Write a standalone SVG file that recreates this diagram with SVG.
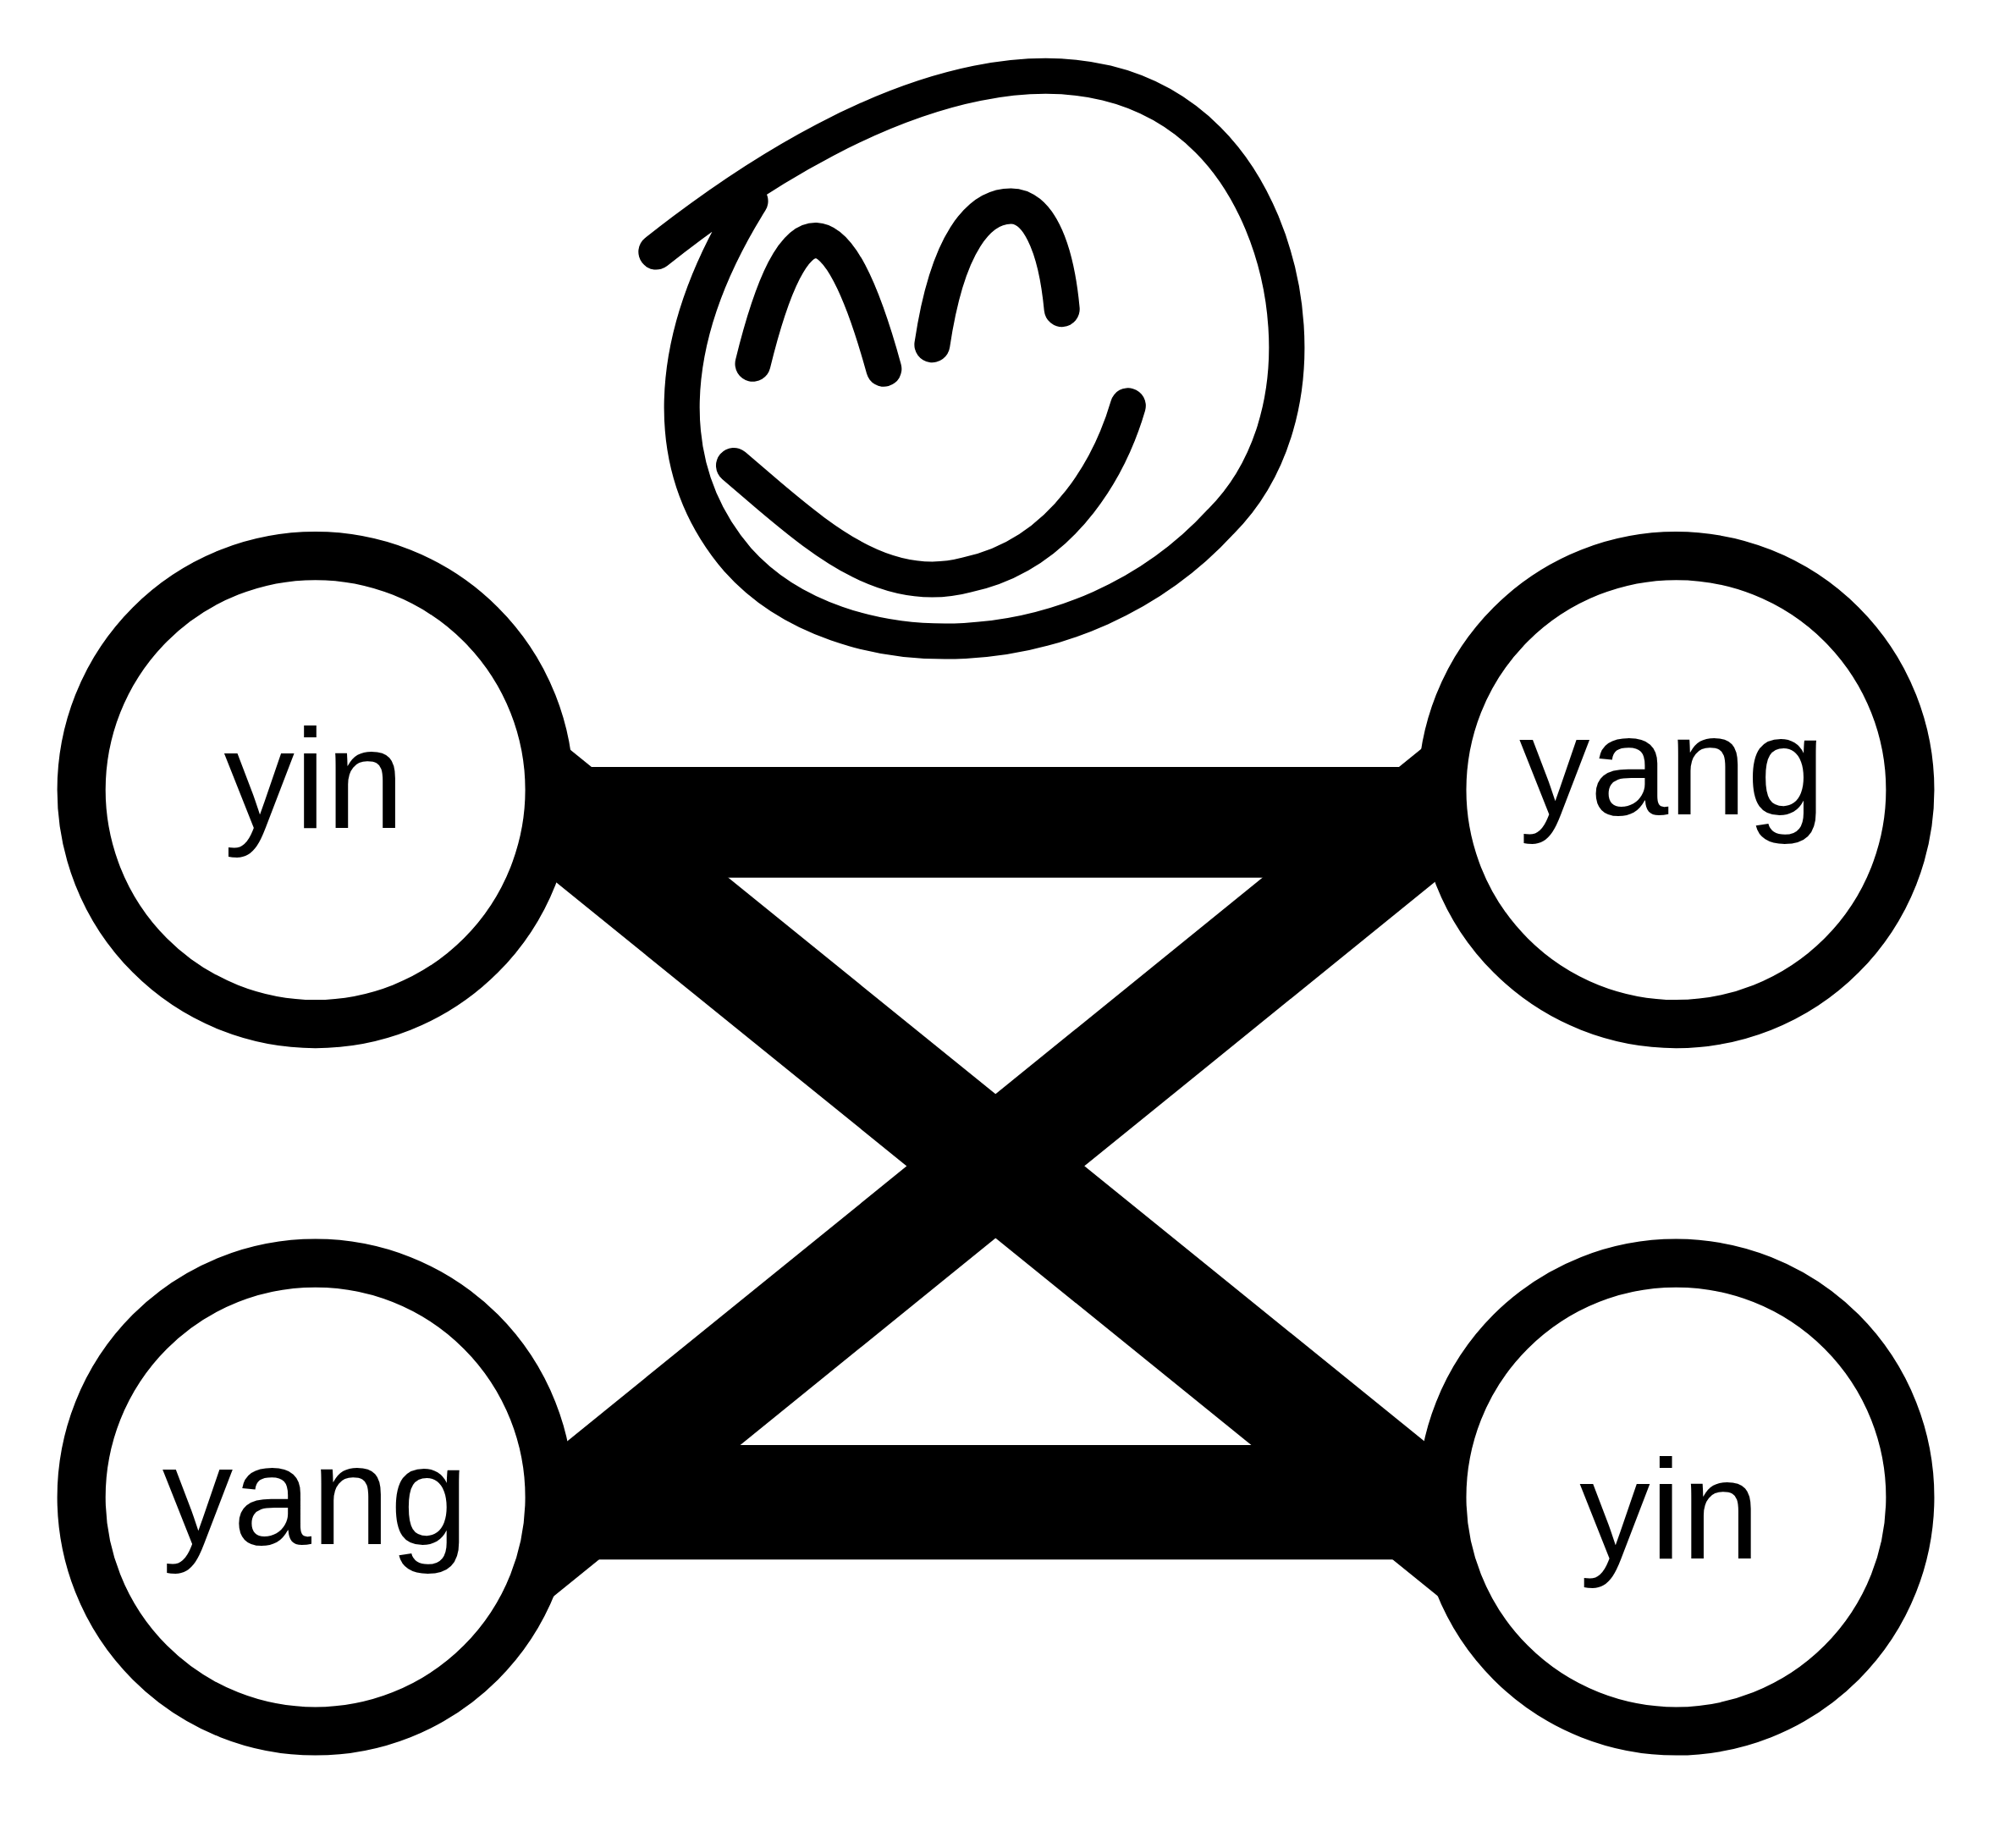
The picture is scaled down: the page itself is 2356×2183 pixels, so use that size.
<svg xmlns="http://www.w3.org/2000/svg" width="2356" height="2183" viewBox="0 0 2356 2183">
<style>
.e{stroke:#000;fill:none}
.n{fill:#fff;stroke:#000;stroke-width:38}
.t{font-family:"Liberation Sans",Arial,sans-serif;font-size:111px;text-anchor:middle;fill:#000}
.f{fill:none;stroke:#000;stroke-width:28;stroke-linecap:round;stroke-linejoin:round}
</style>
<rect width="2356" height="2183" fill="#fff"/>
<g transform="scale(1.5026)">
<g id="connectors">
<line class="e" x1="300" y1="646.5" x2="1270" y2="646.5" stroke-width="87"/>
<line class="e" x1="300" y1="1181" x2="1270" y2="1181" stroke-width="90"/>
<line class="e" x1="420" y1="623" x2="1160" y2="1222" stroke-width="88"/>
<line class="e" x1="1160" y1="611" x2="400" y2="1227" stroke-width="88"/>
</g>
<g id="n1"><circle class="n" cx="248" cy="621" r="184"/><text class="t" x="247" y="651">yin</text></g>
<g id="n2"><circle class="n" cx="1318" cy="621" r="184"/><text class="t" x="1315" y="640">yang</text></g>
<g id="n3"><circle class="n" cx="248" cy="1177" r="184"/><text class="t" x="248" y="1214">yang</text></g>
<g id="n4"><circle class="n" cx="1318" cy="1177" r="184"/><text class="t" x="1313" y="1225">yin</text></g>
<g id="face">
<path class="f" d="M516,198 C700,52 860,20 950,110 C1020,180 1040,330 960,410 C850,530 660,530 580,440 C520,370 520,270 590,158"/>
<path class="f" d="M592,286 Q640,90 695,290"/>
<path class="f" d="M733,271 C745,190 770,162 795,162 C815,162 830,190 835,243"/>
<path class="f" d="M577,366 L605,390 C650,428 700,468 760,452 C840,435 875,360 887,319"/>
</g>
</g>
</svg>
